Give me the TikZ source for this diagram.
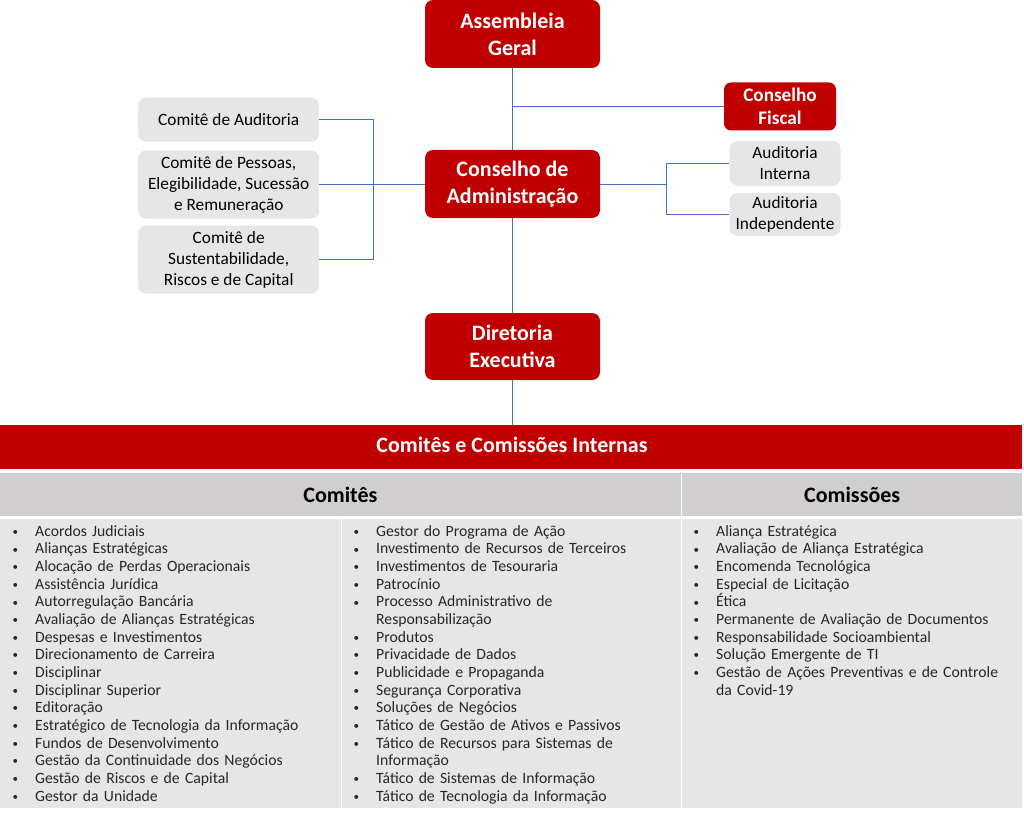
\documentclass[tikz,border=0pt]{standalone}
\usepackage{fontspec}
\setmainfont{Carlito}
\definecolor{redbox}{HTML}{C00000}
\definecolor{graybox}{HTML}{E6E6E6}
\definecolor{headgray}{HTML}{D0CECE}
\definecolor{bodygray}{HTML}{E7E6E6}
\definecolor{connblue}{HTML}{4472C4}
\definecolor{listtext}{HTML}{262626}
\newcommand{\itm}[1]{\hangindent=22pt\hangafter=1\noindent\makebox[22pt][l]{\hspace*{-0.5pt}\raisebox{0.9pt}{\fontsize{11}{11}\selectfont •}}#1\par}
\tikzset{
  redstyle/.style={draw=none, fill=redbox, text=white, rounded corners=8pt, align=center, inner sep=0pt},
  graystyle/.style={draw=none, fill=graybox, text=black, rounded corners=8pt, align=center, inner sep=0pt, font=\fontsize{17.3}{21}\selectfont},
  conn/.style={draw=connblue, line width=0.8pt},
  cellstyle/.style={draw=none, inner sep=0pt, anchor=north west},
  liststyle/.style={inner sep=0pt, anchor=base west, text width=330pt, align=left, text=listtext, font=\fontsize{15.7}{17.65}\selectfont}
}
\begin{document}
\begin{tikzpicture}[x=1pt,y=-1pt]
\useasboundingbox[fill=white] (0,0) rectangle (1024,813);

% top org chart
\node[redstyle, minimum width=175pt, minimum height=68pt, font=\fontsize{22}{27}\selectfont\bfseries] (ag) at (512.5,34) {Assembleia\\Geral};
\node[redstyle, minimum width=175pt, minimum height=68pt, font=\fontsize{22}{27}\selectfont\bfseries] (ca) at (512.5,184) {Conselho de\\Administração};
\node[redstyle, minimum width=175pt, minimum height=67pt, font=\fontsize{22}{27}\selectfont\bfseries] (de) at (512.5,346.5) {Diretoria\\Executiva};
\node[redstyle, minimum width=112pt, minimum height=48pt, rounded corners=7pt, font=\fontsize{19.2}{23}\selectfont\bfseries] (cf) at (780,106.5) {Conselho\\Fiscal};

\node[graystyle, minimum width=111pt, minimum height=45pt] (ai) at (785,163.3) {Auditoria\\Interna};
\node[graystyle, minimum width=111pt, minimum height=43pt] (aind) at (785,214.3) {Auditoria\\Independente};

\node[graystyle, minimum width=181pt, minimum height=44pt] (cAud) at (228.7,119.7) {Comitê de Auditoria};
\node[graystyle, minimum width=181pt, minimum height=68pt] (cPes) at (228.7,184.5) {Comitê de Pessoas,\\Elegibilidade, Sucessão\\e Remuneração};
\node[graystyle, minimum width=181pt, minimum height=68pt] (cSus) at (228.7,259.5) {Comitê de\\Sustentabilidade,\\Riscos e de Capital};

% connectors
\draw[conn] (ag.south) -- (ca.north);
\draw[conn] (ag.south |- cf.west) -- (cf.west);
\coordinate (lj) at (373.7,186);
\draw[conn] (cAud.east) -- (cAud.east -| lj) -- (cSus.east -| lj) -- (cSus.east);
\draw[conn] (cPes.east) -- (cPes.east -| ca.west);
\coordinate (rj) at (666,186);
\draw[conn] (ca.east) -- (ca.east -| rj);
\draw[conn] (ai.west) -- (ai.west -| rj) -- (aind.west -| rj) -- (aind.west);
\draw[conn] (ca.south) -- (de.north);

% table
\node[cellstyle, fill=redbox, minimum width=1022pt, minimum height=43.5pt] (banner) at (0,425) {};
\node[text=white, font=\fontsize{22}{26}\selectfont\bfseries] (bannertxt) at (512,444.5) {Comitês e Comissões Internas};
\draw[conn] (de.south) -- (de.south |- banner.north);

\node[cellstyle, fill=headgray, minimum width=680.5pt, minimum height=43pt] (hCom) at (0,473) {};
\node[cellstyle, fill=headgray, minimum width=340pt, minimum height=43pt] (hCms) at (682,473) {};
\node[font=\fontsize{22}{26}\selectfont\bfseries] (hComtxt) at (hCom.center) {Comitês};
\node[font=\fontsize{22}{26}\selectfont\bfseries] (hCmstxt) at (hCms.center) {Comissões};

\node[cellstyle, fill=bodygray, minimum width=340.5pt, minimum height=289.5pt] (b1) at (0,518.5) {};
\node[cellstyle, fill=bodygray, minimum width=338.5pt, minimum height=289.5pt] (b2) at (342,518.5) {};
\node[cellstyle, fill=bodygray, minimum width=340pt, minimum height=289.5pt] (b3) at (682,518.5) {};

\node[liststyle] (l1) at (13,536.3) {%
\itm{Acordos Judiciais}
\itm{Alianças Estratégicas}
\itm{Alocação de Perdas Operacionais}
\itm{Assistência Jurídica}
\itm{Autorregulação Bancária}
\itm{Avaliação de Alianças Estratégicas}
\itm{Despesas e Investimentos}
\itm{Direcionamento de Carreira}
\itm{Disciplinar}
\itm{Disciplinar Superior}
\itm{Editoração}
\itm{Estratégico de Tecnologia da Informação}
\itm{Fundos de Desenvolvimento}
\itm{Gestão da Continuidade dos Negócios}
\itm{Gestão de Riscos e de Capital}
\itm{Gestor da Unidade}};

\node[liststyle] (l2) at (354,536.3) {%
\itm{Gestor do Programa de Ação}
\itm{Investimento de Recursos de Terceiros}
\itm{Investimentos de Tesouraria}
\itm{Patrocínio}
\itm{Processo Administrativo de\newline Responsabilização}
\itm{Produtos}
\itm{Privacidade de Dados}
\itm{Publicidade e Propaganda}
\itm{Segurança Corporativa}
\itm{Soluções de Negócios}
\itm{Tático de Gestão de Ativos e Passivos}
\itm{Tático de Recursos para Sistemas de\newline Informação}
\itm{Tático de Sistemas de Informação}
\itm{Tático de Tecnologia da Informação}};

\node[liststyle] (l3) at (694,536.3) {%
\itm{Aliança Estratégica}
\itm{Avaliação de Aliança Estratégica}
\itm{Encomenda Tecnológica}
\itm{Especial de Licitação}
\itm{Ética}
\itm{Permanente de Avaliação de Documentos}
\itm{Responsabilidade Socioambiental}
\itm{Solução Emergente de TI}
\itm{Gestão de Ações Preventivas e de Controle\newline da Covid-19}};
\end{tikzpicture}
\end{document}
